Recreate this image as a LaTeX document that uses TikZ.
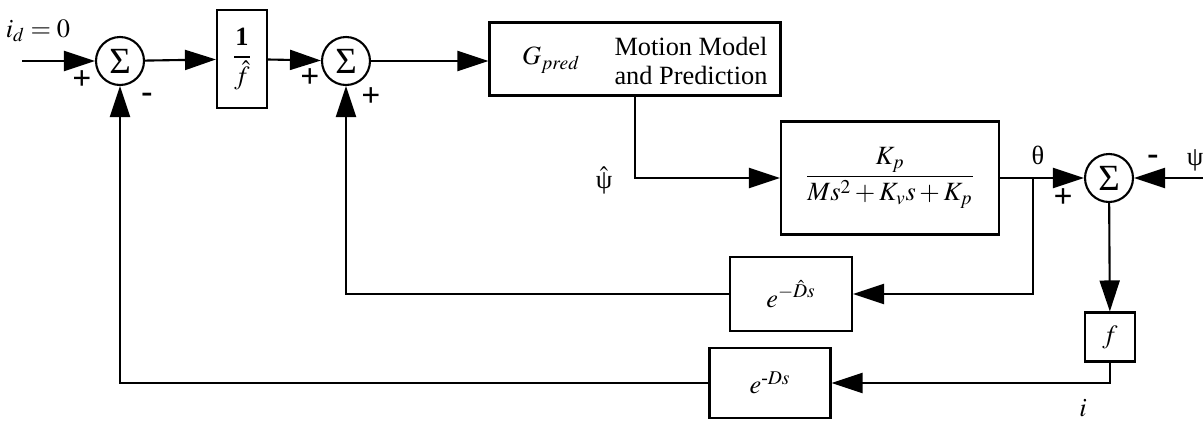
\documentclass[tikz,border=0pt]{standalone}
\usepackage{amsmath}
\usepackage{mathptmx}
\usepackage{fontspec}
\setmainfont{Liberation Serif}
\usetikzlibrary{arrows.meta}
\begin{document}
\begin{tikzpicture}[x=0.02cm,y=-0.02cm,
  every node/.style={font=\fontsize{15}{18}\selectfont},
  blk/.style={draw,line width=1.2pt,inner sep=0pt},
  sumnode/.style={draw,circle,line width=1.2pt,minimum size=0.96cm,inner sep=0pt,font=\fontsize{21}{22}\selectfont},
  sgn/.style={font=\fontsize{19}{20}\selectfont\bfseries},
  sig/.style={line width=1.2pt,-{Triangle[length=0.62cm,width=0.4cm]}}]
\useasboundingbox (0,0) rectangle (1203,420);
\node[sumnode] (s1) at (120,61) {Σ};
\node[blk,minimum width=1cm,minimum height=1.96cm] (finv) at (242,59) {$\dfrac{\textbf{1}}{\hat{f}}$};
\node[sumnode] (s2) at (346,61) {Σ};
\node[blk,minimum width=5.82cm,minimum height=1.46cm] (gp) at (635,59) {};
\node (gl) at (551,60) {$G_{pred}$};
\node[align=center] (gt) at (691,61) {Motion Model\\[-2pt]and Prediction};
\node[blk,minimum width=4.36cm,minimum height=2.26cm] (plant) at (890,178) {$\dfrac{K_p}{Ms^2+K_v s+K_p}$};
\node[sumnode] (s3) at (1109,178) {Σ};
\node[blk,minimum width=1cm,minimum height=0.98cm] (fb) at (1110,337) {$f$};
\node[blk,minimum width=2.44cm,minimum height=1.48cm] (dh) at (791,294) {$e^{-\hat{D}s}$};
\node[blk,minimum width=2.42cm,minimum height=1.4cm] (dd) at (770,383) {$e^{\text{-}Ds}$};
\coordinate (in) at (22,61);
\coordinate (psiin) at (1203,178);
\coordinate (br) at (1033,178);
\draw[sig] (in) -- (s1);
\draw[sig] (s1) -- (finv);
\draw[sig] (finv) -- (s2);
\draw[sig] (s2) -- (s2 -| gp.west);
\draw[sig] (gp.south) |- (plant.west);
\draw[sig] (plant.east |- s3) -- (s3);
\draw[sig] (psiin) -- (s3);
\draw[sig] (br) |- (dh.east);
\draw[sig] (dh.west) -| (s2.south);
\draw[sig] (s3) -- (fb);
\draw[sig] (fb.south) |- (dd.east);
\draw[sig] (dd.west) -| (s1.south);
\node (id) at (38,31) {$i_d = 0$};
\node[sgn] (p1) at (82,80) {+};
\node[sgn] (m1) at (147,98) {-};
\node[sgn] (p2) at (310,78) {+};
\node[sgn] (p3) at (371,97) {+};
\node (psih) at (604,180) {$\hat{\text{ψ}}$};
\node (th) at (1038,155) {θ};
\node[sgn] (p4) at (1063,198) {+};
\node[sgn] (m3) at (1153,160) {-};
\node (psi) at (1195,160) {ψ};
\node (iout) at (1083,408) {$i$};
\end{tikzpicture}
\end{document}
